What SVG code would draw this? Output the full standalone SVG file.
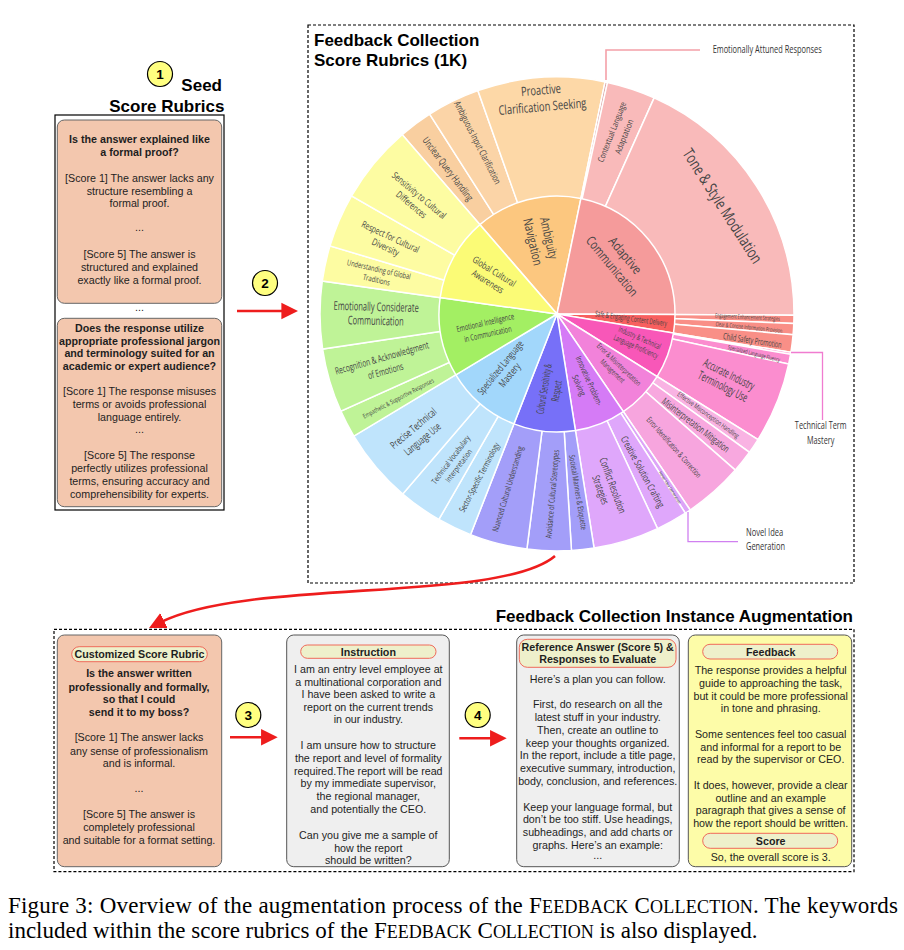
<svg xmlns="http://www.w3.org/2000/svg" width="904" height="950" viewBox="0 0 904 950">
<style>
.card{fill:#f3c7ae;stroke:#666;stroke-width:1}
.gray{fill:#efefef;stroke:#555;stroke-width:1}
.yel{fill:#fdfca8;stroke:#555;stroke-width:1}
.pill{fill:#eef0cb;stroke:#ef6a5a;stroke-width:1}
.t{font-family:"Liberation Sans",Arial,sans-serif;font-size:10.7px;fill:#1e1e1e;text-anchor:middle}
.b{font-weight:bold}
.h{font-family:"Liberation Sans",Arial,sans-serif;font-weight:bold;font-size:17px;fill:#000}
.lb{font-family:"Open Sans",sans-serif;fill:#444;text-anchor:middle}
.cl{font-family:"Open Sans",sans-serif;fill:#333;font-size:10.5px}
.w path{stroke:#fff;stroke-width:1.5}
.num circle{fill:#ffff80;stroke:#000;stroke-width:1.2}
.num text{font-family:"Liberation Sans",Arial,sans-serif;font-weight:bold;font-size:13.5px;text-anchor:middle;fill:#000}
.red{stroke:#ee1d1d;stroke-width:2.6;fill:none;marker-end:url(#ah)}
.dash{fill:none;stroke:#000;stroke-width:1.2;stroke-dasharray:3 2}
.cap{font-family:"Liberation Serif","Times New Roman",serif;font-size:23px;fill:#000}
</style>
<defs>
<marker id="ah" viewBox="0 0 10 10" refX="2" refY="5" markerWidth="6.4" markerHeight="7" orient="auto" markerUnits="strokeWidth"><path d="M0 0L10 5L0 10Z" fill="#ee1d1d"/></marker>
</defs>
<rect width="904" height="950" fill="#fff"/>

<!-- Seed score rubrics -->
<g id="seed">
<g class="num"><circle cx="160" cy="74" r="12.5"/><text x="160" y="78.8">1</text></g>
<text class="h" x="222" y="91" text-anchor="end">Seed</text>
<text class="h" x="224.5" y="111.5" text-anchor="end" font-size="16.6">Score Rubrics</text>
<rect x="55" y="115" width="169" height="395" fill="none" stroke="#000" stroke-width="1.2"/>
<rect class="card" x="57.3" y="120" width="164.4" height="183.3" rx="7"/>
<text class="t b" x="139.5" y="142.8">Is the answer explained like</text>
<text class="t b" x="139.5" y="156.1">a formal proof?</text>
<text class="t" x="139.5" y="181.5">[Score 1] The answer lacks any</text>
<text class="t" x="139.5" y="194.8">structure resembling a</text>
<text class="t" x="139.5" y="207.1">formal proof.</text>
<text class="t" x="139.5" y="231">...</text>
<text class="t" x="139.5" y="258.1">[Score 5] The answer is</text>
<text class="t" x="139.5" y="271.1">structured and explained</text>
<text class="t" x="139.5" y="284.1">exactly like a formal proof.</text>
<text class="t" x="139.5" y="311">...</text>
<rect class="card" x="57.3" y="318.3" width="164.4" height="188.4" rx="7"/>
<text class="t b" x="139.5" y="331.5">Does the response utilize</text>
<text class="t b" x="139.5" y="344.5">appropriate professional jargon</text>
<text class="t b" x="139.5" y="357.1">and terminology suited for an</text>
<text class="t b" x="139.5" y="369.8">academic or expert audience?</text>
<text class="t" x="139.5" y="394.8">[Score 1] The response misuses</text>
<text class="t" x="139.5" y="407.8">terms or avoids professional</text>
<text class="t" x="139.5" y="420.5">language entirely.</text>
<text class="t" x="139.5" y="432.5">...</text>
<text class="t" x="139.5" y="458.8">[Score 5] The response</text>
<text class="t" x="139.5" y="472.1">perfectly utilizes professional</text>
<text class="t" x="139.5" y="484.8">terms, ensuring accuracy and</text>
<text class="t" x="139.5" y="497.5">comprehensibility for experts.</text>
</g>

<!-- Sunburst panel -->
<g id="sunburst-panel">
<rect class="dash" x="308" y="25" width="546" height="558"/>
<text class="h" x="314" y="46">Feedback Collection</text>
<text class="h" x="314" y="66">Score Rubrics (1K)</text>
</g>

<g id="sunburst" class="w">
<path fill="#f9cfa0" d="M557 314L402.14 134.59A237 237 0 0 1 429.66 114.11Z"/>
<path fill="#fbd4a7" d="M557 314L429.66 114.11A237 237 0 0 1 477.89 90.60Z"/>
<path fill="#fdd8a7" d="M557 314L477.89 90.60A237 237 0 0 1 605.06 81.93Z"/>
<path fill="#d9a3a3" d="M557 314L605.06 81.93A237 237 0 0 1 607.48 82.45Z"/>
<path fill="#f9baba" d="M557 314L607.48 82.45A237 237 0 0 1 654.15 97.83Z"/>
<path fill="#f9baba" d="M557 314L654.15 97.83A237 237 0 0 1 794.0 315.24Z"/>
<path fill="#f98f87" d="M557 314L794.0 315.24A237 237 0 0 1 793.8 323.51Z"/>
<path fill="#f98f87" d="M557 314L793.8 323.51A237 237 0 0 1 793.1 334.66Z"/>
<path fill="#f98f87" d="M557 314L793.1 334.66A237 237 0 0 1 790.9 352.30Z"/>
<path fill="#fb8dcf" d="M557 314L790.9 352.30A237 237 0 0 1 790.54 354.34Z"/>
<path fill="#fb8dcf" d="M557 314L790.54 354.34A237 237 0 0 1 788.64 364.08Z"/>
<path fill="#fb8dcf" d="M557 314L788.64 364.08A237 237 0 0 1 757.98 439.59Z"/>
<path fill="#f9b3e3" d="M557 314L757.98 439.59A237 237 0 0 1 749.47 452.29Z"/>
<path fill="#f8a8df" d="M557 314L749.47 452.29A237 237 0 0 1 735.32 470.11Z"/>
<path fill="#f7a5de" d="M557 314L735.32 470.11A237 237 0 0 1 690.22 510.02Z"/>
<path fill="#dda4f8" d="M557 314L690.22 510.02A237 237 0 0 1 685.38 513.22Z"/>
<path fill="#dfa7fb" d="M557 314L685.38 513.22A237 237 0 0 1 657.54 528.63Z"/>
<path fill="#dfa7fb" d="M557 314L657.54 528.63A237 237 0 0 1 594.07 548.08Z"/>
<path fill="#a39ef9" d="M557 314L594.07 548.08A237 237 0 0 1 571.47 550.55Z"/>
<path fill="#a39ef9" d="M557 314L571.47 550.55A237 237 0 0 1 526.88 549.08Z"/>
<path fill="#a39ef9" d="M557 314L526.88 549.08A237 237 0 0 1 470.52 534.67Z"/>
<path fill="#bfe4fc" d="M557 314L470.52 534.67A237 237 0 0 1 438.86 519.46Z"/>
<path fill="#bfe4fc" d="M557 314L438.86 519.46A237 237 0 0 1 402.76 493.95Z"/>
<path fill="#bfe4fc" d="M557 314L402.76 493.95A237 237 0 0 1 353.84 436.06Z"/>
<path fill="#bff397" d="M557 314L353.84 436.06A237 237 0 0 1 340.83 411.15Z"/>
<path fill="#bff397" d="M557 314L340.83 411.15A237 237 0 0 1 322.61 349.03Z"/>
<path fill="#bff397" d="M557 314L322.61 349.03A237 237 0 0 1 322.30 281.01Z"/>
<path fill="#fdfca2" d="M557 314L322.30 281.01A237 237 0 0 1 330.00 245.89Z"/>
<path fill="#fdfca2" d="M557 314L330.00 245.89A237 237 0 0 1 351.54 195.86Z"/>
<path fill="#fdfca2" d="M557 314L351.54 195.86A237 237 0 0 1 402.14 134.59Z"/>
<!-- inner ring -->
<path fill="#fcc77f" d="M557 314L479.90 224.67A118 118 0 0 1 580.93 198.45Z"/>
<path fill="#f59b9b" d="M557 314L580.93 198.45A118 118 0 0 1 675.0 314.62Z"/>
<path fill="#f85f5f" d="M557 314L675.0 314.62A118 118 0 0 1 673.45 333.07Z"/>
<path fill="#f857b8" d="M557 314L673.45 333.07A118 118 0 0 1 657.06 376.53Z"/>
<path fill="#f282da" d="M557 314L657.06 376.53A118 118 0 0 1 623.33 411.60Z"/>
<path fill="#d57bf6" d="M557 314L623.33 411.60A118 118 0 0 1 575.46 430.55Z"/>
<path fill="#7770f8" d="M557 314L575.46 430.55A118 118 0 0 1 513.94 423.87Z"/>
<path fill="#a2d7fb" d="M557 314L513.94 423.87A118 118 0 0 1 455.85 374.77Z"/>
<path fill="#a3ef63" d="M557 314L455.85 374.77A118 118 0 0 1 440.14 297.57Z"/>
<path fill="#fbfb76" d="M557 314L440.14 297.57A118 118 0 0 1 479.90 224.67Z"/>
</g>

<g id="sunburst-labels">
<g transform="translate(541.7 98.3) rotate(-5)"><text class="lb" font-size="13" y="-3.8" textLength="40" lengthAdjust="spacingAndGlyphs">Proactive</text><text class="lb" font-size="13" y="12.9" textLength="88" lengthAdjust="spacingAndGlyphs">Clarification Seeking</text></g>
<g transform="translate(477.5 142.5) rotate(63)"><text class="lb" font-size="9.5" y="3.3" textLength="91.7" lengthAdjust="spacingAndGlyphs">Ambiguous Input Clarification</text></g>
<g transform="translate(448 169) rotate(53)"><text class="lb" font-size="10" y="3.5" textLength="77" lengthAdjust="spacingAndGlyphs">Unclear Query Handling</text></g>
<g transform="translate(415.3 200) rotate(40)"><text class="lb" font-size="9.5" y="-2.7" textLength="67" lengthAdjust="spacingAndGlyphs">Sensitivity to Cultural</text><text class="lb" font-size="9.5" y="9.3" textLength="36.5" lengthAdjust="spacingAndGlyphs">Differences</text></g>
<g transform="translate(388 242) rotate(25)"><text class="lb" font-size="9.5" y="-2.45" textLength="62.6" lengthAdjust="spacingAndGlyphs">Respect for Cultural</text><text class="lb" font-size="9.5" y="9.05" textLength="29" lengthAdjust="spacingAndGlyphs">Diversity</text></g>
<g transform="translate(377.7 274.7) rotate(13)"><text class="lb" font-size="8" y="-2.45" textLength="65" lengthAdjust="spacingAndGlyphs">Understanding of Global</text><text class="lb" font-size="8" y="8.05" textLength="27.6" lengthAdjust="spacingAndGlyphs">Traditions</text></g>
<g transform="translate(491 276.5) rotate(32)"><text class="lb" font-size="9.5" y="-2.7" textLength="49" lengthAdjust="spacingAndGlyphs">Global Cultural</text><text class="lb" font-size="9.5" y="9.3" textLength="35.7" lengthAdjust="spacingAndGlyphs">Awareness</text></g>
<g transform="translate(541 240) rotate(77)"><text class="lb" font-size="13" y="-3.7" textLength="42.5" lengthAdjust="spacingAndGlyphs">Ambiguity</text><text class="lb" font-size="13" y="12.8" textLength="48" lengthAdjust="spacingAndGlyphs">Navigation</text></g>
<g transform="translate(618 134.3) rotate(-68.5)"><text class="lb" font-size="8.5" y="-3.5" textLength="63.8" lengthAdjust="spacingAndGlyphs">Contextual Language</text><text class="lb" font-size="8.5" y="9.5" textLength="36.6" lengthAdjust="spacingAndGlyphs">Adaptation</text></g>
<g transform="translate(722.5 206) rotate(57.3)"><text class="lb" font-size="16" y="5.6" textLength="132.7" lengthAdjust="spacingAndGlyphs">Tone &amp; Style Modulation</text></g>
<g transform="translate(618.7 260.8) rotate(50.5)"><text class="lb" font-size="13" y="-3.95" textLength="43.8" lengthAdjust="spacingAndGlyphs">Adaptive</text><text class="lb" font-size="13" y="13.05" textLength="73.4" lengthAdjust="spacingAndGlyphs">Communication</text></g>
<g transform="translate(631 318.5) rotate(8)"><text class="lb" font-size="8" y="2.8" textLength="72.4" lengthAdjust="spacingAndGlyphs">Safe &amp; Engaging Content Delivery</text></g>
<g transform="translate(747.5 317.2) rotate(3)"><text class="lb" font-size="6" y="2.1" textLength="65" lengthAdjust="spacingAndGlyphs">Engagement Enhancement Strategies</text></g>
<g transform="translate(749 327.3) rotate(6)"><text class="lb" font-size="6" y="2.1" textLength="67" lengthAdjust="spacingAndGlyphs">Clear &amp; Concise Information Provision</text></g>
<g transform="translate(752.5 340.5) rotate(8.8)"><text class="lb" font-size="9" y="3.15" textLength="59" lengthAdjust="spacingAndGlyphs">Child Safety Promotion</text></g>
<g transform="translate(754 353.5) rotate(14)"><text class="lb" font-size="6" y="2.1" textLength="53.4" lengthAdjust="spacingAndGlyphs">Specialized Language Fluency</text></g>
<g transform="translate(637.8 342.2) rotate(23.7)"><text class="lb" font-size="8" y="-1.95" textLength="45.5" lengthAdjust="spacingAndGlyphs">Industry &amp; Technical</text><text class="lb" font-size="8" y="7.55" textLength="47.7" lengthAdjust="spacingAndGlyphs">Language Proficiency</text></g>
<g transform="translate(615.7 367.8) rotate(43.8)"><text class="lb" font-size="7.5" y="-1.9" textLength="57.8" lengthAdjust="spacingAndGlyphs">Error &amp; Misinterpretation</text><text class="lb" font-size="7.5" y="7.1" textLength="30.6" lengthAdjust="spacingAndGlyphs">Management</text></g>
<g transform="translate(726 380.3) rotate(26.6)"><text class="lb" font-size="12" y="-2.55" textLength="55.9" lengthAdjust="spacingAndGlyphs">Accurate Industry</text><text class="lb" font-size="12" y="10.95" textLength="53.7" lengthAdjust="spacingAndGlyphs">Terminology Use</text></g>
<g transform="translate(708.3 415) rotate(35.8)"><text class="lb" font-size="7" y="2.45" textLength="74" lengthAdjust="spacingAndGlyphs">Effective Misconception Handling</text></g>
<g transform="translate(695.7 425) rotate(37.6)"><text class="lb" font-size="10" y="3.5" textLength="82" lengthAdjust="spacingAndGlyphs">Misinterpretation Mitigation</text></g>
<g transform="translate(674 447.3) rotate(48.5)"><text class="lb" font-size="8" y="2.8" textLength="78" lengthAdjust="spacingAndGlyphs">Error Identification &amp; Correction</text></g>
<g transform="translate(670 487.5) rotate(57.7)"><text class="lb" font-size="4" y="1.4" textLength="37.5" lengthAdjust="spacingAndGlyphs">Novel Idea Generation</text></g>
<g transform="translate(642.7 471.7) rotate(61.3)"><text class="lb" font-size="10" y="3.5" textLength="79.8" lengthAdjust="spacingAndGlyphs">Creative Solution Crafting</text></g>
<g transform="translate(606.7 487.7) rotate(70)"><text class="lb" font-size="10.5" y="-2.8" textLength="58.5" lengthAdjust="spacingAndGlyphs">Conflict Resolution</text><text class="lb" font-size="10.5" y="10.2" textLength="30" lengthAdjust="spacingAndGlyphs">Strategies</text></g>
<g transform="translate(584 383) rotate(65.8)"><text class="lb" font-size="8.5" y="-2.5" textLength="53" lengthAdjust="spacingAndGlyphs">Innovative Problem-</text><text class="lb" font-size="8.5" y="8.5" textLength="22" lengthAdjust="spacingAndGlyphs">Solving</text></g>
<g transform="translate(550.3 390) rotate(-80.5)"><text class="lb" font-size="10.5" y="-2.65" textLength="50.7" lengthAdjust="spacingAndGlyphs">Cultural Sensitivity &amp;</text><text class="lb" font-size="10.5" y="10.05" textLength="21" lengthAdjust="spacingAndGlyphs">Respect</text></g>
<g transform="translate(376 313.7) rotate(1.5)"><text class="lb" font-size="12" y="-2.8" textLength="85.2" lengthAdjust="spacingAndGlyphs">Emotionally Considerate</text><text class="lb" font-size="12" y="11.2" textLength="55.7" lengthAdjust="spacingAndGlyphs">Communication</text></g>
<g transform="translate(383.7 364.5) rotate(-16)"><text class="lb" font-size="10" y="-3.25" textLength="97" lengthAdjust="spacingAndGlyphs">Recognition &amp; Acknowledgment</text><text class="lb" font-size="10" y="10.25" textLength="36.4" lengthAdjust="spacingAndGlyphs">of Emotions</text></g>
<g transform="translate(398.3 398.3) rotate(-27.6)"><text class="lb" font-size="6.5" y="2.3" textLength="79" lengthAdjust="spacingAndGlyphs">Empathetic &amp; Supportive Responses</text></g>
<g transform="translate(486.5 328.3) rotate(-13)"><text class="lb" font-size="8.5" y="-2.75" textLength="58.9" lengthAdjust="spacingAndGlyphs">Emotional Intelligence</text><text class="lb" font-size="8.5" y="8.75" textLength="48.4" lengthAdjust="spacingAndGlyphs">in Communication</text></g>
<g transform="translate(505 371.3) rotate(-51)"><text class="lb" font-size="10" y="-2.35" textLength="66.4" lengthAdjust="spacingAndGlyphs">Specialized Language</text><text class="lb" font-size="10" y="9.35" textLength="27.8" lengthAdjust="spacingAndGlyphs">Mastery</text></g>
<g transform="translate(417.8 433.7) rotate(-40)"><text class="lb" font-size="10.5" y="-3.3" textLength="56.8" lengthAdjust="spacingAndGlyphs">Precise Technical</text><text class="lb" font-size="10.5" y="10.7" textLength="44" lengthAdjust="spacingAndGlyphs">Language Use</text></g>
<g transform="translate(454.7 462.7) rotate(-53)"><text class="lb" font-size="8" y="-2.2" textLength="58.3" lengthAdjust="spacingAndGlyphs">Technical Vocabulary</text><text class="lb" font-size="8" y="7.8" textLength="39" lengthAdjust="spacingAndGlyphs">Interpretation</text></g>
<g transform="translate(479.3 477.3) rotate(-62.4)"><text class="lb" font-size="8.5" y="3" textLength="77" lengthAdjust="spacingAndGlyphs">Sector-Specific Terminology</text></g>
<g transform="translate(507.7 489) rotate(-73.2)"><text class="lb" font-size="8.5" y="3" textLength="88.8" lengthAdjust="spacingAndGlyphs">Nuanced Cultural Understanding</text></g>
<g transform="translate(552.3 494) rotate(-85)"><text class="lb" font-size="8.5" y="3" textLength="88.7" lengthAdjust="spacingAndGlyphs">Avoidance of Cultural Stereotypes</text></g>
<g transform="translate(578 492.3) rotate(80.7)"><text class="lb" font-size="8" y="2.8" textLength="76" lengthAdjust="spacingAndGlyphs">Societal Manners &amp; Etiquette</text></g>
</g>

<g id="callouts">
<polyline points="606,80 606,50 700,50" fill="none" stroke="#f4a0a8" stroke-width="1.6"/>
<text class="cl" x="712.7" y="52.5" font-size="10" textLength="109" lengthAdjust="spacingAndGlyphs">Emotionally Attuned Responses</text>
<polyline points="791,352.5 822.5,352.5 822.5,420" fill="none" stroke="#f07cd0" stroke-width="1.3"/>
<text class="cl" x="820.7" y="429" text-anchor="middle" textLength="51.7" lengthAdjust="spacingAndGlyphs">Technical Term</text>
<text class="cl" x="820.7" y="443.5" text-anchor="middle" textLength="27.3" lengthAdjust="spacingAndGlyphs">Mastery</text>
<polyline points="688,512 688,541.7 738,541.7" fill="none" stroke="#d080f0" stroke-width="1.3"/>
<text class="cl" x="746" y="535.5" textLength="37.3" lengthAdjust="spacingAndGlyphs">Novel Idea</text>
<text class="cl" x="746" y="550" textLength="39" lengthAdjust="spacingAndGlyphs">Generation</text>
</g>

<g id="connectors">
<line class="red" x1="237" y1="311" x2="284.7" y2="311"/>
<path class="red" d="M555 556C500 603 250 578 161 622"/>
<line class="red" x1="230" y1="737.3" x2="264.4" y2="737.3"/>
<line class="red" x1="459.3" y1="738.3" x2="493.4" y2="738.3"/>
</g>
<g id="step2" class="num"><circle cx="265" cy="283" r="12.5"/><text x="265" y="287.8">2</text></g>
<g id="step3" class="num"><circle cx="248.3" cy="715" r="12.5"/><text x="248.3" y="719.8">3</text></g>
<g id="step4" class="num"><circle cx="477.7" cy="715" r="12.5"/><text x="477.7" y="719.8">4</text></g>

<!-- Instance augmentation -->
<g id="augmentation">
<text class="h" x="853" y="621.5" text-anchor="end">Feedback Collection Instance Augmentation</text>
<rect class="dash" x="54" y="629.3" width="800" height="242.4"/>
</g>

<g id="custom-rubric">
<rect class="card" x="57.3" y="635" width="164.4" height="231.7" rx="7"/>
<rect class="pill" x="71.7" y="646.7" width="135.6" height="15" rx="7.5"/>
<text class="t b" x="139.5" y="658">Customized Score Rubric</text>
<text class="t b" x="139" y="677.1">Is the answer written</text>
<text class="t b" x="139" y="690.5">professionally and formally,</text>
<text class="t b" x="139" y="703.1">so that I could</text>
<text class="t b" x="139" y="715.8">send it to my boss?</text>
<text class="t" x="139" y="741.1">[Score 1] The answer lacks</text>
<text class="t" x="139" y="754.5">any sense of professionalism</text>
<text class="t" x="139" y="767.1">and is informal.</text>
<text class="t" x="139" y="791.5">...</text>
<text class="t" x="139" y="818.1">[Score 5] The answer is</text>
<text class="t" x="139" y="831.1">completely professional</text>
<text class="t" x="139" y="843.8">and suitable for a format setting.</text>
</g>

<g id="instruction">
<rect class="gray" x="286.7" y="635" width="162.6" height="231.7" rx="7"/>
<rect class="pill" x="300.7" y="645" width="135.3" height="13.3" rx="6.6"/>
<text class="t b" x="368.3" y="655.5">Instruction</text>
<text class="t" x="368.3" y="672.8">I am an entry level employee at</text>
<text class="t" x="368.3" y="685.5">a multinational corporation and</text>
<text class="t" x="368.3" y="698.1">I have been asked to write a</text>
<text class="t" x="368.3" y="710.8">report on the current trends</text>
<text class="t" x="368.3" y="723.1">in our industry.</text>
<text class="t" x="368.3" y="749.1">I am unsure how to structure</text>
<text class="t" x="368.3" y="761.8">the report and level of formality</text>
<text class="t" x="368.3" y="774.5">required.The report will be read</text>
<text class="t" x="368.3" y="787.1">by my immediate supervisor,</text>
<text class="t" x="368.3" y="800.1">the regional manager,</text>
<text class="t" x="368.3" y="813.1">and potentially the CEO.</text>
<text class="t" x="368.3" y="838.8">Can you give me a sample of</text>
<text class="t" x="368.3" y="851.5">how the report</text>
<text class="t" x="368.3" y="864.1">should be written?</text>
</g>

<g id="reference">
<rect class="gray" x="516.7" y="635" width="162.6" height="231.7" rx="7"/>
<rect class="pill" x="519.3" y="639.3" width="156.7" height="28" rx="8"/>
<text class="t b" x="597.7" y="650.5">Reference Answer (Score 5) &amp;</text>
<text class="t b" x="597.7" y="663.1">Responses to Evaluate</text>
<text class="t" x="597.7" y="682.8">Here’s a plan you can follow.</text>
<text class="t" x="597.7" y="708.1">First, do research on all the</text>
<text class="t" x="597.7" y="721.1">latest stuff in your industry.</text>
<text class="t" x="597.7" y="733.8">Then, create an outline to</text>
<text class="t" x="597.7" y="746.5">keep your thoughts organized.</text>
<text class="t" x="597.7" y="759.1">In the report, include a title page,</text>
<text class="t" x="597.7" y="772.1">executive summary, introduction,</text>
<text class="t" x="597.7" y="784.8">body, conclusion, and references.</text>
<text class="t" x="597.7" y="810.5">Keep your language formal, but</text>
<text class="t" x="597.7" y="823.1">don’t be too stiff. Use headings,</text>
<text class="t" x="597.7" y="835.8">subheadings, and add charts or</text>
<text class="t" x="597.7" y="848.8">graphs. Here’s an example:</text>
<text class="t" x="597.7" y="859">...</text>
</g>

<g id="feedback">
<rect class="yel" x="688.3" y="635" width="163.4" height="231.7" rx="7"/>
<rect class="pill" x="702.7" y="644.3" width="135" height="14.7" rx="7.3"/>
<text class="t b" x="770.7" y="655.5">Feedback</text>
<text class="t" x="770.7" y="673.8">The response provides a helpful</text>
<text class="t" x="770.7" y="686.5">guide to approaching the task,</text>
<text class="t" x="770.7" y="699.5">but it could be more professional</text>
<text class="t" x="770.7" y="712.1">in tone and phrasing.</text>
<text class="t" x="770.7" y="737.5">Some sentences feel too casual</text>
<text class="t" x="770.7" y="750.5">and informal for a report to be</text>
<text class="t" x="770.7" y="763.1">read by the supervisor or CEO.</text>
<text class="t" x="770.7" y="788.8">It does, however, provide a clear</text>
<text class="t" x="770.7" y="801.5">outline and an example</text>
<text class="t" x="770.7" y="814.1">paragraph that gives a sense of</text>
<text class="t" x="770.7" y="827.1">how the report should be written.</text>
<rect class="pill" x="702.7" y="833.3" width="135" height="15" rx="7.5"/>
<text class="t b" x="770.7" y="844.6">Score</text>
<text class="t" x="770.7" y="860.5">So, the overall score is 3.</text>
</g>

<g id="caption">
<text class="cap" x="8" y="913" textLength="890" lengthAdjust="spacing">Figure 3: Overview of the augmentation process of the F<tspan font-size="18">EEDBACK</tspan> C<tspan font-size="18">OLLECTION</tspan>. The keywords</text>
<text class="cap" x="8" y="938">included within the score rubrics of the F<tspan font-size="18">EEDBACK</tspan> C<tspan font-size="18">OLLECTION</tspan> is also displayed.</text>
</g>
</svg>
